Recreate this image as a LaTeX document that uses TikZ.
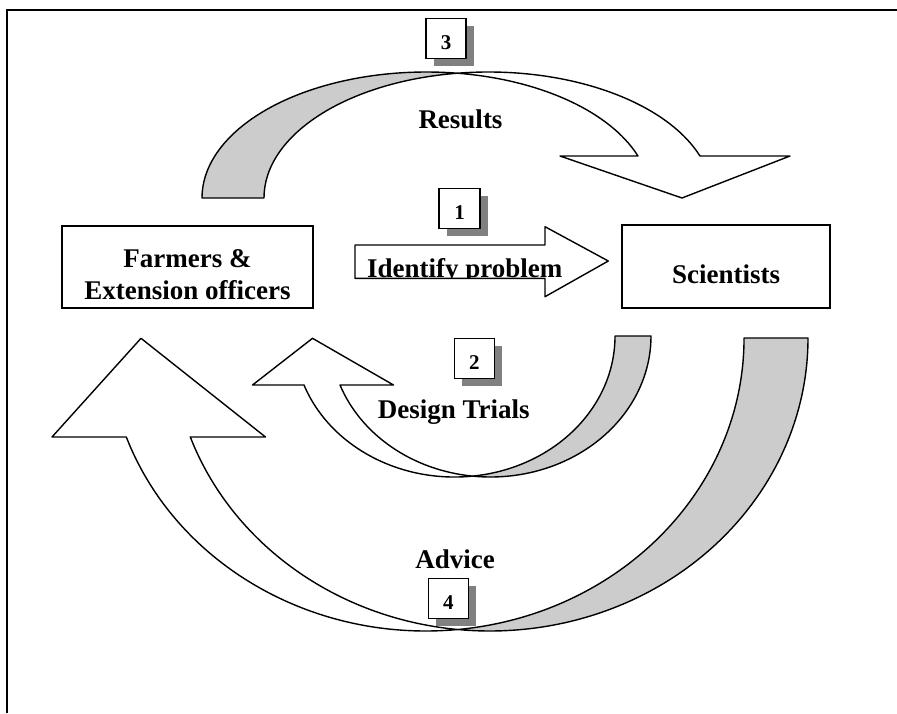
\documentclass[tikz,border=0pt]{standalone}
\usepackage{fontspec}
\setmainfont{Liberation Serif}
\usetikzlibrary{shadows}
\definecolor{bandgrey}{HTML}{CCCCCC}
\definecolor{shadowgrey}{HTML}{808080}
\begin{document}
\begin{tikzpicture}[x=1pt,y=1pt,
  outline/.style={draw=black, line width=1.4pt, line join=round},
  boxnode/.style={draw=black, line width=1.7pt, fill=white, inner sep=0pt},
  lbl/.style={font=\fontsize{27}{32}\selectfont\bfseries, anchor=base, inner sep=0pt},
  numbox/.style={draw=black, line width=1.4pt, fill=white, inner sep=0pt,
    minimum width=40pt, minimum height=40pt, text height=22pt, text depth=0pt,
    font=\fontsize{21}{25}\selectfont\bfseries,
    drop shadow={shadow xshift=8pt, shadow yshift=-8pt, fill=shadowgrey, opacity=1}}]
\useasboundingbox (0,0) rectangle (897,-713);
% frame
\draw[line width=2pt] (7,-713) -- (7,-9.5) -- (897,-9.5);

% arrow 4 (Advice)
\draw[outline, fill=bandgrey] (744,-338) -- (808,-338)
  arc[start angle=360, end angle=264.23, x radius=318.2pt, y radius=293pt]
  arc[start angle=275.77, end angle=360, x radius=318.2pt, y radius=293pt] -- cycle;
\draw[outline, fill=white] (457.8,-629.51)
  arc[start angle=264.23, end angle=199.75, x radius=318.2pt, y radius=293pt]
  -- (265.5,-437) -- (141,-338.3) -- (52,-437) -- (126.31,-437)
  arc[start angle=199.75, end angle=275.77, x radius=318.2pt, y radius=293pt] -- cycle;

% arrow 2 (Design Trials)
\draw[outline, fill=bandgrey] (615,-336) -- (651,-336)
  arc[start angle=360, end angle=263.56, x radius=160.5pt, y radius=141pt]
  arc[start angle=276.44, end angle=360, x radius=160.5pt, y radius=141pt] -- cycle;
\draw[outline, fill=white] (472.5,-476.11)
  arc[start angle=263.56, end angle=200.33, x radius=160.5pt, y radius=141pt]
  -- (393.5,-385) -- (312.5,-338.3) -- (252.5,-385) -- (304,-385)
  arc[start angle=200.33, end angle=276.44, x radius=160.5pt, y radius=141pt] -- cycle;

% arrow 3 (Results)
\draw[outline, fill=bandgrey] (202,-198)
  arc[start angle=180, end angle=82.06, x radius=224.4pt, y radius=126pt]
  arc[start angle=97.94, end angle=180, x radius=224.4pt, y radius=126pt] -- cycle;
\draw[outline, fill=white] (457.4,-73.21)
  arc[start angle=97.94, end angle=19.47, x radius=224.4pt, y radius=126pt]
  -- (790,-156) -- (682,-198) -- (560,-156) -- (637.97,-156)
  arc[start angle=19.47, end angle=82.06, x radius=224.4pt, y radius=126pt] -- cycle;

% arrow 1 (Identify problem)
\draw[outline, fill=white] (355,-245) -- (545,-245) -- (545,-226.7) -- (608.3,-261)
  -- (545,-296.7) -- (545,-278.3) -- (355,-278.3) -- cycle;
\begin{scope}
  \clip (350,-230) rectangle (620,-278.3);
  \node[lbl, anchor=base west] (identify) at (367,-277) {Identify problem};
\end{scope}
\draw[outline] (355,-278.3) -- (545,-278.3);

% main boxes
\node[boxnode, minimum width=251pt, minimum height=82pt] (farmers) at (187.5,-267) {};
\node[boxnode, minimum width=208pt, minimum height=83pt] (scientists) at (726,-266.5) {};
\node[lbl] (farmersA) at (187.5,-267) {Farmers \&};
\node[lbl] (farmersB) at (187.5,-299.3) {Extension officers};
\node[lbl] (scitext) at (726,-283.3) {Scientists};

% labels
\node[lbl] (results) at (460.5,-128) {Results};
\node[lbl] (design) at (453.7,-418) {Design Trials};
\node[lbl] (advice) at (455,-568) {Advice};

% number boxes
\node[numbox, minimum width=41pt] (n1) at (459.5,-208.3) {1};
\node[numbox] (n2) at (474.3,-358.3) {2};
\node[numbox] (n3) at (446,-38.3) {3};
\node[numbox] (n4) at (448.3,-598.3) {4};
\end{tikzpicture}
\end{document}
